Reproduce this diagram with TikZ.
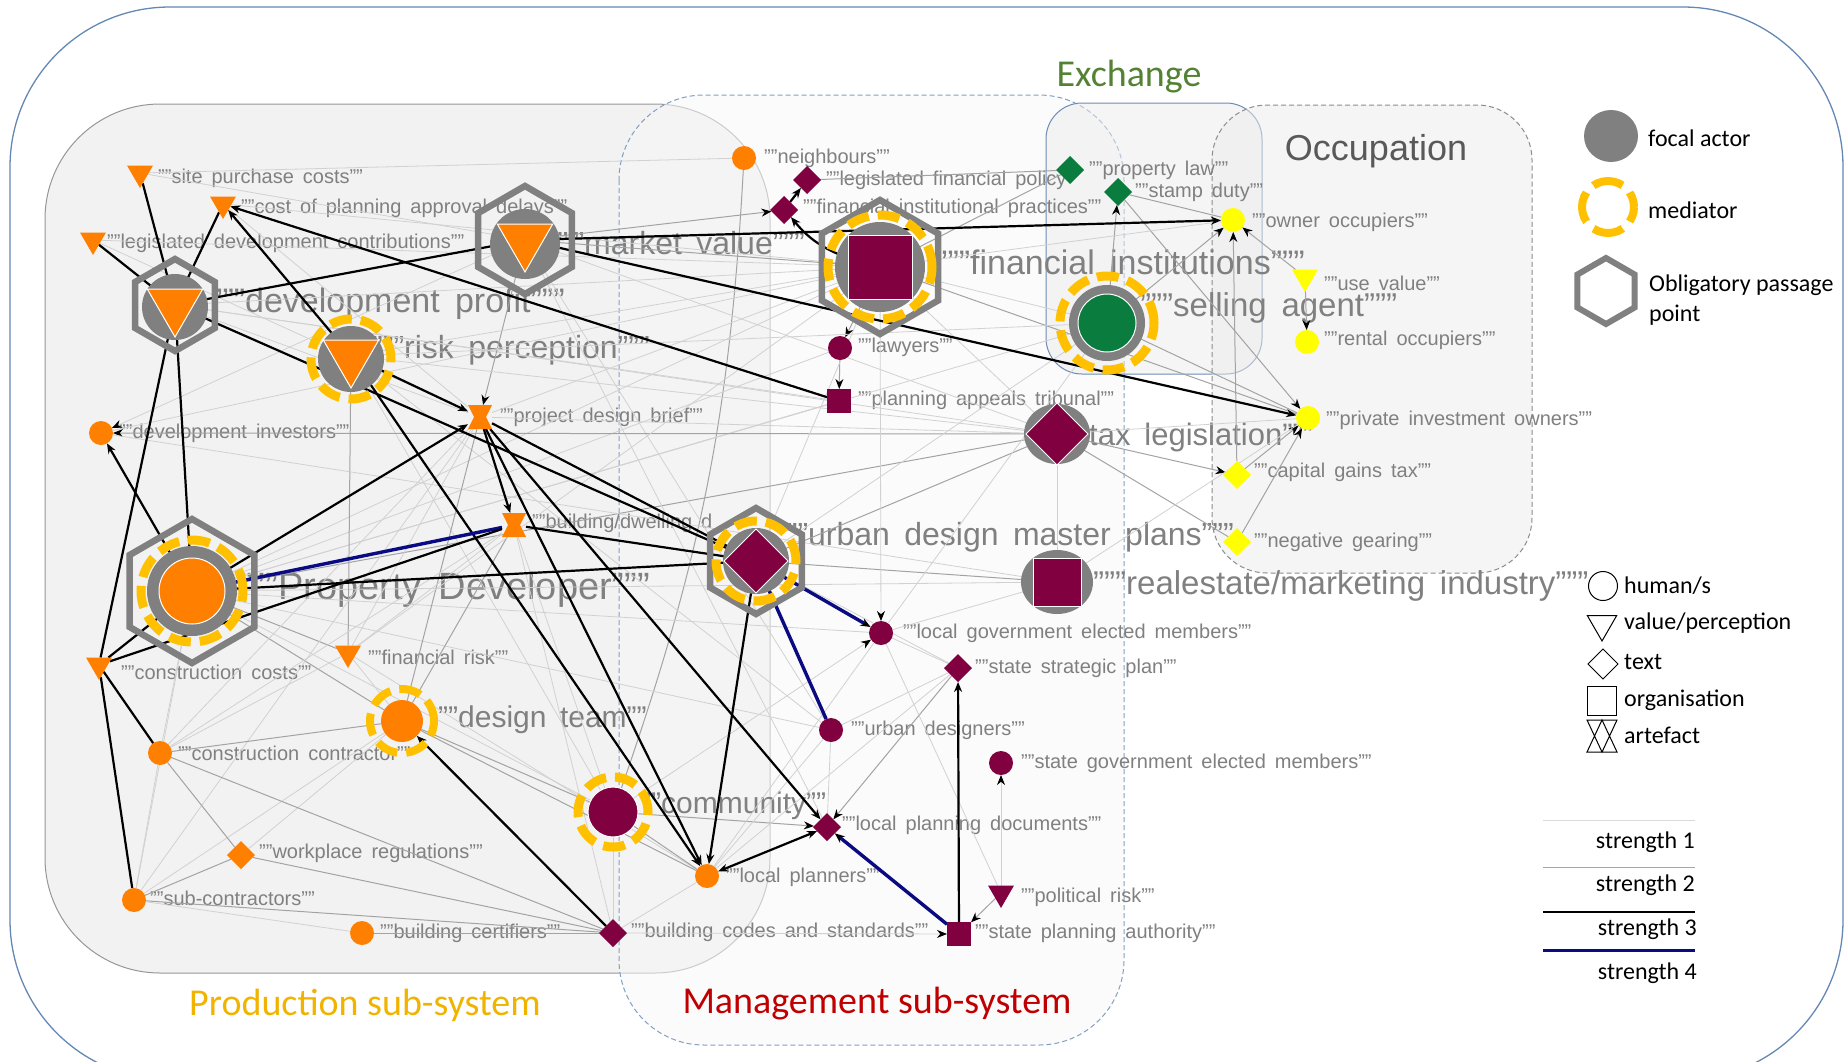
\documentclass[tikz,border=0pt]{standalone}
\usepackage{fontspec}
\setmainfont{Liberation Sans}
\newfontfamily\calibrifont{Carlito}
\usetikzlibrary{shapes.geometric,arrows.meta}

\definecolor{actorange}{RGB}{255,128,0}
\definecolor{actmaroon}{RGB}{128,0,64}
\definecolor{actgreen}{RGB}{10,125,62}
\definecolor{actyellow}{RGB}{255,255,0}
\definecolor{focalgrey}{RGB}{128,128,128}
\definecolor{medgold}{RGB}{255,192,0}
\definecolor{labgrey}{RGB}{128,128,128}
\definecolor{strengthblue}{RGB}{10,10,130}
\definecolor{framec}{RGB}{100,135,180}
\definecolor{prodfill}{RGB}{242,242,242}
\definecolor{prodline}{RGB}{150,150,150}
\definecolor{mgmtline}{RGB}{130,160,195}
\definecolor{exline}{RGB}{110,140,180}
\definecolor{prodtext}{RGB}{240,180,0}
\definecolor{mgmttext}{RGB}{192,0,0}
\definecolor{extext}{RGB}{84,130,53}
\definecolor{occtext}{RGB}{89,89,89}

\pgfdeclarelayer{regions}
\pgfdeclarelayer{labels}
\pgfdeclarelayer{edges}
\pgfdeclarelayer{deco}
\pgfsetlayers{regions,labels,edges,deco,main}

\tikzset{
  act/.style={inner sep=0pt, outer sep=0pt},
  hum/.style={act, circle, fill=#1, minimum size=24pt},
  val/.style={act, regular polygon, regular polygon sides=3, shape border rotate=180, fill=#1, minimum size=30pt},
  txt/.style={act, diamond, fill=#1, minimum size=28pt},
  org/.style={act, rectangle, fill=#1, minimum size=24pt},
  art/.style={act, rectangle, minimum size=24pt, path picture={
      \fill[#1] (path picture bounding box.north west) -- (path picture bounding box.north east) -- (path picture bounding box.south) -- cycle;
      \fill[#1] (path picture bounding box.south west) -- (path picture bounding box.south east) -- (path picture bounding box.north) -- cycle;}},
  bigact/.style={draw=white, line width=1pt},
  focal/.style={act, circle, fill=focalgrey},
  mediator/.style={act, circle, draw=medgold, line width=9pt, dash pattern=on 22pt off 9pt},
  opp/.style={act, regular polygon, regular polygon sides=6, shape border rotate=30, draw=focalgrey, line width=6.5pt},
  lbl/.style={anchor=west, inner sep=0pt, text=labgrey, font={\fontsize{20}{22}\selectfont\spaceskip=0.45em\relax}},
  lblsize/.style={font={\fontsize{#1}{#1}\selectfont\spaceskip=0.45em\relax}},
  biglbl/.style={lbl, lblsize=#1},
  biglbl/.default=33,
  legtxt/.style={anchor=west, inner sep=0pt, font=\calibrifont\fontsize{24}{26}\selectfont},
  regiontxt/.style={inner sep=0pt, font=\calibrifont\fontsize{38}{40}\selectfont},
  s1/.style={draw=black!18, line width=0.8pt},
  s2/.style={draw=black!36, line width=1pt},
  s3/.style={draw=black, line width=2.2pt},
  s4/.style={draw=strengthblue, line width=3.4pt},
  arr/.style={-{Stealth[black, length=10pt, width=8pt]}},
}

\begin{document}
\begin{tikzpicture}[x=1pt, y=-1pt, >=stealth]
\useasboundingbox (0,0) rectangle (1847,1061);

% sub-system areas
\begin{pgfonlayer}{regions}
\draw[draw=framec, line width=1.3pt, rounded corners=160pt] (10,7) rectangle (1843,1080);
\draw[draw=prodline, fill=prodfill, line width=1pt, rounded corners=115pt] (45,104) rectangle (770,973);
\draw[draw=mgmtline, fill=black!3, fill opacity=0.55, line width=1pt, dash pattern=on 5pt off 3pt, rounded corners=85pt] (619,95) rectangle (1124,1045);
\draw[draw=exline, fill=black!8, fill opacity=0.5, line width=1pt, rounded corners=36pt] (1046,103) rectangle (1262,374);
\draw[draw=black!45, fill=black!8, fill opacity=0.5, line width=1pt, dash pattern=on 5pt off 3pt, rounded corners=55pt] (1212,105) rectangle (1532,573);
\end{pgfonlayer}

\node[regiontxt, text=prodtext] (prodl) at (365,1005) {Production sub-system};
\node[regiontxt, text=mgmttext] (mgmtl) at (877,1004) {Management sub-system};
\node[regiontxt, text=extext] (exl) at (1129,77) {Exchange};
\node[inner sep=0pt, font=\fontsize{36}{38}\selectfont, text=occtext] (occl) at (1376,151) {Occupation};

% production actors
\node (site) at (140,173) [val=actorange] {};
\node (cpd) at (223,204) [val=actorange] {};
\node (ldc) at (93,240) [val=actorange] {};
\node (dp) at (175,305) [val=actorange, bigact, minimum size=64pt] {};
\node (mv) at (525,240) [val=actorange, bigact, minimum size=64pt] {};
\node (rp) at (351,356) [val=actorange, bigact, minimum size=64pt] {};
\node (pdb) at (480,417) [art=actorange] {};
\node (dinv) at (101,433) [hum=actorange] {};
\node (bd) at (514,525) [art=actorange] {};
\node (pd) at (192,591) [hum=actorange, bigact, minimum size=66pt] {};
\node (ccost) at (99,665) [val=actorange] {};
\node (frisk) at (348,653) [val=actorange] {};
\node (dt) at (402,721) [hum=actorange, minimum size=42pt] {};
\node (ccon) at (160,753) [hum=actorange] {};
\node (wreg) at (241,855) [txt=actorange] {};
\node (subc) at (134,900) [hum=actorange] {};
\node (bcert) at (362,933) [hum=actorange] {};
\node (lp) at (707,876) [hum=actorange] {};
\node (nb) at (744,158) [hum=actorange] {};

% management actors
\node (com) at (613,812) [hum=actmaroon, bigact, minimum size=50pt] {};
\node (bcs) at (613,933) [txt=actmaroon] {};
\node (lfp) at (807,180) [txt=actmaroon] {};
\node (fip) at (784,210) [txt=actmaroon] {};
\node (fi) at (880,267) [org=actmaroon, bigact, minimum size=64pt] {};
\node (law) at (840,348) [hum=actmaroon] {};
\node (pat) at (839,401) [org=actmaroon] {};
\node (tax) at (1057,434) [txt=actmaroon, bigact, minimum size=62pt] {};
\node (udmp) at (756,561) [txt=actmaroon, bigact, minimum size=64pt] {};
\node (rem) at (1057,582) [org=actmaroon, bigact, minimum size=48pt] {};
\node (lgem) at (881,633) [hum=actmaroon] {};
\node (ssp) at (958,668) [txt=actmaroon] {};
\node (udes) at (831,730) [hum=actmaroon] {};
\node (sgem) at (1001,763) [hum=actmaroon] {};
\node (lpd) at (827,827) [txt=actmaroon] {};
\node (prisk) at (1001,893) [val=actmaroon] {};
\node (spa) at (959,934) [org=actmaroon] {};

% exchange and occupation actors
\node (plaw) at (1070,170) [txt=actgreen] {};
\node (sduty) at (1118,192) [txt=actgreen] {};
\node (sa) at (1107,323) [hum=actgreen, bigact, minimum size=58pt] {};
\node (oo) at (1233,220) [hum=actyellow] {};
\node (uv) at (1305,277) [val=actyellow] {};
\node (ro) at (1307,342) [hum=actyellow] {};
\node (pio) at (1308,418) [hum=actyellow] {};
\node (cgt) at (1237,475) [txt=actyellow] {};
\node (ng) at (1237,542) [txt=actyellow] {};

% focal actor, mediator, obligatory passage point
\begin{pgfonlayer}{deco}
\node (dpopp) at (dp) [opp, minimum size=92pt] {};
\node (dpfoc) at (175,307) [focal, minimum size=66pt] {};
\node (mvopp) at (mv) [opp, minimum size=108pt] {};
\node (mvfoc) at (525,244) [focal, minimum size=70pt] {};
\node (rpmed) at (351,359) [mediator, minimum size=80pt] {};
\node (rpfoc) at (351,359) [focal, minimum size=66pt] {};
\node (pdopp) at (pd) [opp, minimum size=144pt] {};
\node (pdmed) at (pd) [mediator, minimum size=102pt] {};
\node (pdfoc) at (pd) [focal, minimum size=90pt] {};
\node (dtmed) at (dt) [mediator, line width=8pt, minimum size=64pt] {};
\node (commed) at (com) [mediator, minimum size=70pt] {};
\node (fiopp) at (fi) [opp, minimum size=134pt] {};
\node (fimed) at (fi) [mediator, minimum size=104pt] {};
\node (fifoc) at (fi) [focal, minimum size=90pt] {};
\node (samed) at (sa) [mediator, minimum size=94pt] {};
\node (safoc) at (sa) [focal, minimum size=76pt] {};
\node (taxfoc) at (tax) [focal, ellipse, minimum width=66pt, minimum height=60pt] {};
\node (udmpopp) at (udmp) [opp, minimum size=106pt] {};
\node (udmpmed) at (udmp) [mediator, minimum size=80pt] {};
\node (udmpfoc) at (udmp) [focal, minimum size=66pt] {};
\node (remfoc) at (rem) [focal, ellipse, minimum width=72pt, minimum height=64pt] {};
\end{pgfonlayer}

% labels
\begin{pgfonlayer}{labels}
\node (sitel) at (158,178) [lbl] {""site purchase costs""};
\node (cpdl) at (241,208) [lbl] {""cost of planning approval delays""};
\node (ldcl) at (107,243) [lbl] {""legislated development contributions""};
\node (dpl) at (211,304) [biglbl=34] {"""development profit"""};
\node (mvl) at (552,243) [biglbl=32] {"""market value"""};
\node (rpl) at (372,350) [biglbl=32] {"""risk perception"""};
\node (pdbl) at (500,417) [lbl] {""project design brief""};
\node (dinvl) at (119,433) [lbl] {""development investors""};
\node (bdl) at (532,523) [lbl] {""building/dwelling d};
\node (pdl) at (240,590) [biglbl=38] {"""Property Developer"""};
\node (ccostl) at (121,672) [lbl] {""construction costs""};
\node (friskl) at (368,657) [lbl] {""financial risk""};
\node (dtl) at (438,720) [biglbl=30] {""design team""};
\node (cconl) at (178,753) [lbl] {""construction contractor""};
\node (wregl) at (259,853) [lbl] {""workplace regulations""};
\node (subcl) at (150,898) [lbl] {""sub-contractors""};
\node (bcertl) at (380,933) [lbl] {""building certifiers""};
\node (coml) at (641,806) [biglbl=30] {""community""};
\node (lpl) at (726,877) [lbl] {""local planners""};
\node (bcsl) at (631,932) [lbl] {""building codes and standards""};
\node (nbl) at (764,158) [lbl] {""neighbours""};
\node (lfpl) at (826,180) [lbl] {""legislated financial policy""};
\node (fipl) at (803,208) [lbl] {""financial institutional practices""};
\node (fil) at (936,262) [biglbl=34] {"""financial institutions"""};
\node (lawl) at (858,347) [lbl] {""lawyers""};
\node (patl) at (858,400) [lbl] {""planning appeals tribunal""};
\node (taxl) at (1058,437) [biglbl=31] {"""tax legislation"""};
\node (udmpl) at (776,537) [biglbl=32] {"""urban design master plans"""};
\node (reml) at (1093,586) [biglbl=33] {"""realestate/marketing industry"""};
\node (lgeml) at (903,633) [lbl] {""local government elected members""};
\node (sspl) at (975,668) [lbl] {""state strategic plan""};
\node (udesl) at (851,730) [lbl] {""urban designers""};
\node (sgeml) at (1021,763) [lbl] {""state government elected members""};
\node (lpdl) at (842,825) [lbl] {""local planning documents""};
\node (priskl) at (1021,897) [lbl] {""political risk""};
\node (spal) at (975,933) [lbl] {""state planning authority""};
\node (plawl) at (1089,170) [lbl] {""property law""};
\node (sdutyl) at (1135,192) [lbl] {""stamp duty""};
\node (sal) at (1140,308) [biglbl=33] {"""selling agent"""};
\node (ool) at (1252,222) [lbl] {""owner occupiers""};
\node (uvl) at (1324,283) [lbl] {""use value""};
\node (rol) at (1324,340) [lbl] {""rental occupiers""};
\node (piol) at (1326,420) [lbl] {""private investment owners""};
\node (cgtl) at (1254,472) [lbl] {""capital gains tax""};
\node (ngl) at (1254,542) [lbl] {""negative gearing""};
\end{pgfonlayer}

% connections
\begin{pgfonlayer}{edges}
% strength 1 and 2
\draw[s1] (nb) -- (site);
\draw[s2,arr] (mv) -- (fip);
\draw[s2] (nb) to[bend left=8] (com);
\draw[s2,arr] (fi) -- (law);
\draw[s2,arr] (law) -- (pat);
\draw[s2] (sduty) -- (oo);
\draw[s2] (plaw) -- (lfp);
\draw[s2] (fi) -- (plaw);
\draw[s2,arr] (sa) -- (sduty);
\draw[s2,arr] (sa) -- (oo);
\draw[s2,arr] (uv) -- (oo);
\draw[s2,arr] (cgt) -- (oo);
\draw[s2,arr] (uv) -- (ro);
\draw[s2,arr] (sduty) -- (pio);
\draw[s2,arr] (tax) -- (cgt);
\draw[s2] (tax) -- (ng);
\draw[s2,arr] (cgt) -- (pio);
\draw[s2,arr] (ng) -- (pio);
\draw[s2] (sa) -- (pio);
\draw[s2] (fi) -- (pio);
\draw[s1] (tax) -- (pio);
\draw[s1] (fi) -- (oo);
\draw[s2] (rem) -- (udmp);
\draw[s2] (udmp) -- (tax);
\draw[s1] (pd) -- (fi);
\draw[s1] (pd) -- (sa);
\draw[s2] (pd) -- (tax);
\draw[s1] (pd) -- (rem);
\draw[s2] (pd) -- (frisk);
\draw[s2] (pd) -- (dt);
\draw[s1] (pd) -- (com);
\draw[s1] (pd) -- (law);
\draw[s1] (pd) -- (pat);
\draw[s1] (pd) -- (udes);
\draw[s1] (pd) -- (lgem);
\draw[s1] (pd) -- (ccon);
\draw[s1] (dp) -- (fi);
\draw[s1] (dp) -- (tax);
\draw[s1] (dp) -- (pat);
\draw[s1] (dp) -- (pdb);
\draw[s2] (mv) -- (fi);
\draw[s2,arr] (mv) -- (pdb);
\draw[s1] (mv) -- (lpd);
\draw[s1] (mv) -- (udes);
\draw[s1] (mv) -- (tax);
\draw[s1,arr] (mv) -- (dinv);
\draw[s1] (rp) -- (fi);
\draw[s2] (rp) -- (frisk);
\draw[s1] (rp) -- (sa);
\draw[s1] (rp) -- (tax);
\draw[s1] (rp) -- (udes);
\draw[s1] (rp) -- (com);
\draw[s1] (site) -- (mv);
\draw[s1] (cpd) -- (pdb);
\draw[s1] (cpd) -- (fi);
\draw[s1] (ldc) -- (pdb);
\draw[s1] (ldc) -- (fi);
\draw[s2,arr] (tax) -- (dinv);
\draw[s1] (dinv) -- (fi);
\draw[s1] (dinv) -- (rem);
\draw[s1] (pdb) -- (ccon);
\draw[s2] (pdb) -- (dt);
\draw[s1] (pdb) -- (frisk);
\draw[s1] (pdb) -- (tax);
\draw[s1] (pdb) -- (fi);
\draw[s1] (pdb) -- (subc);
\draw[s2] (bd) -- (dt);
\draw[s1] (bd) -- (ccon);
\draw[s1] (bd) -- (com);
\draw[s1] (bd) -- (bcs);
\draw[s1] (bd) -- (frisk);
\draw[s2] (dt) -- (ccon);
\draw[s1] (dt) -- (subc);
\draw[s1] (dt) -- (wreg);
\draw[s1] (dt) -- (frisk);
\draw[s2] (dt) -- (lp);
\draw[s2] (dt) -- (com);
\draw[s1] (ccon) -- (subc);
\draw[s2] (ccon) -- (wreg);
\draw[s2] (ccon) -- (bcs);
\draw[s1] (ccon) -- (frisk);
\draw[s2] (subc) -- (wreg);
\draw[s2] (subc) -- (bcs);
\draw[s1] (subc) -- (pd);
\draw[s2] (bcert) -- (bcs);
\draw[s1] (bcert) -- (subc);
\draw[s2] (wreg) -- (bcs);
\draw[s1] (frisk) -- (fi);
\draw[s1] (frisk) -- (lp);
\draw[s1] (bcs) -- (lp);
\draw[s1,arr] (bcs) -- (spa);
\draw[s1] (bcs) -- (com);
\draw[s2] (com) -- (lp);
\draw[s2,arr] (com) -- (lpd);
\draw[s1,arr] (com) -- (lgem);
\draw[s1] (lp) -- (ssp);
\draw[s1] (lp) -- (lgem);
\draw[s1] (lp) -- (udes);
\draw[s2,arr] (ssp) -- (lpd);
\draw[s1] (lgem) -- (ssp);
\draw[s1] (lgem) -- (prisk);
\draw[s2,arr] (prisk) -- (spa);
\draw[s1,arr] (prisk) -- (sgem);
\draw[s1] (udes) -- (lpd);
\draw[s1] (udes) -- (ssp);
\draw[s1] (udmp) -- (ssp);
\draw[s1] (udmp) -- (sa);
\draw[s1] (udmp) -- (fi);
\draw[s1] (tax) -- (fi);
\draw[s1] (tax) -- (rem);
\draw[s1] (fi) -- (sa);
\draw[s1] (rem) -- (lgem);
\draw[s1] (rem) -- (pio);
\draw[s1,arr] (fi) -- (lgem);
\draw[s1] (sa) -- (lgem);
% strength 3 and 4
\draw[s3] (dp) -- (site);
\draw[s3] (dp) -- (cpd);
\draw[s3] (dp) -- (ldc);
\draw[s3] (dp) -- (mv);
\draw[s3] (dp) -- (udmp);
\draw[s3,arr] (rp) -- (cpd);
\draw[s3,arr] (pat) -- (cpd);
\draw[s3,arr] (mv) -- (oo);
\draw[s3,arr] (mv) -- (pio);
\draw[s3,arr] (rp) -- (pdb);
\draw[s3,arr] (rp) -- (lp);
\draw[s3,arr] (pdb) -- (lp);
\draw[s3,arr] (pdb) -- (lpd);
\draw[s3,arr] (pdb) -- (bd);
\draw[s3] (pdb) -- (udmp);
\draw[s3] (bd) -- (udmp);
\draw[s3,arr] (pd) -- (pdb);
\draw[s4] (pd) -- (bd);
\draw[s3] (ccost) -- (bd);
\draw[s3] (pd) -- (udmp);
\draw[s3] (pd) -- (dp);
\draw[s3,arr] (pd) -- (dinv);
\draw[s3] (ccost) -- (pd);
\draw[s3] (ccost) -- (dp);
\draw[s3] (ccost) -- (ccon);
\draw[s3] (ccost) -- (subc);
\draw[s3,arr] (bcs) -- (dt);
\draw[s3,arr] (udmp) -- (lp);
\draw[s3,{Stealth[length=10pt,width=8pt]}-{Stealth[length=10pt,width=8pt]}] (lp) -- (lpd);
\draw[s4,arr] (spa) -- (lpd);
\draw[s3,arr] (spa) -- (ssp);
\draw[s4,arr] (udmp) -- (lgem);
\draw[s4] (udmp) -- (udes);
\draw[s3,arr] (fi) to[bend left=15] (fip);
\draw[s3,arr] (fip) -- (lfp);
\end{pgfonlayer}

% legend
\node (lgfocal) at (1611,136) [act, ellipse, fill=focalgrey, minimum width=54pt, minimum height=52pt] {};
\node (lgfocall) at (1648,138) [legtxt] {focal actor};
\node (lgmed) at (1608,207) [act, circle, draw=medgold, line width=8pt, dash pattern=on 30.8pt off 10pt, dash phase=15.4pt, minimum size=52pt] {};
\node (lgmedl) at (1648,210) [legtxt] {mediator};
\node (lgopp) at (1606,291) [opp, line width=6pt, minimum size=66pt] {};
\node (lgoppl) at (1649,285) [legtxt] {Obligatory passage};
\node (lgoppl2) at (1649,315) [legtxt] {point};
\node (lghum) at (1603,586) [act, circle, draw, line width=1pt, minimum size=29pt] {};
\node (lghuml) at (1624,586) [legtxt] {human/s};
\node (lgval) at (1602,624) [act, regular polygon, regular polygon sides=3, shape border rotate=180, draw, line width=1pt, minimum size=34pt] {};
\node (lgvall) at (1624,623) [legtxt] {value/perception};
\node (lgtxt) at (1603,664) [act, diamond, draw, line width=1pt, minimum size=30pt] {};
\node (lgtxtl) at (1624,662) [legtxt] {text};
\node (lgorg) at (1602,701) [act, rectangle, draw, line width=1pt, minimum size=29pt] {};
\node (lgorgl) at (1624,700) [legtxt] {organisation};
\node (lgart) at (1602,736) [act, minimum width=30pt, minimum height=32pt] {};
\draw[line width=1pt] (lgart.north west) -- (lgart.north east) -- (lgart.south) -- cycle
  (lgart.south west) -- (lgart.south east) -- (lgart.north) -- cycle;
\node (lgartl) at (1624,735) [legtxt] {artefact};

\draw[draw=black!15, line width=1pt] (1543,820) -- (1695,820);
\node (lgs1) at (1695,842) [legtxt, anchor=east] {strength 1};
\draw[draw=black!35, line width=1pt] (1543,867) -- (1695,867);
\node (lgs2) at (1695,885) [legtxt, anchor=east] {strength 2};
\draw[draw=black, line width=2pt] (1543,912) -- (1695,912);
\node (lgs3) at (1697,929) [legtxt, anchor=east] {strength 3};
\draw[draw=strengthblue, line width=3pt] (1543,950) -- (1695,950);
\node (lgs4) at (1697,973) [legtxt, anchor=east] {strength 4};
\end{tikzpicture}
\end{document}
